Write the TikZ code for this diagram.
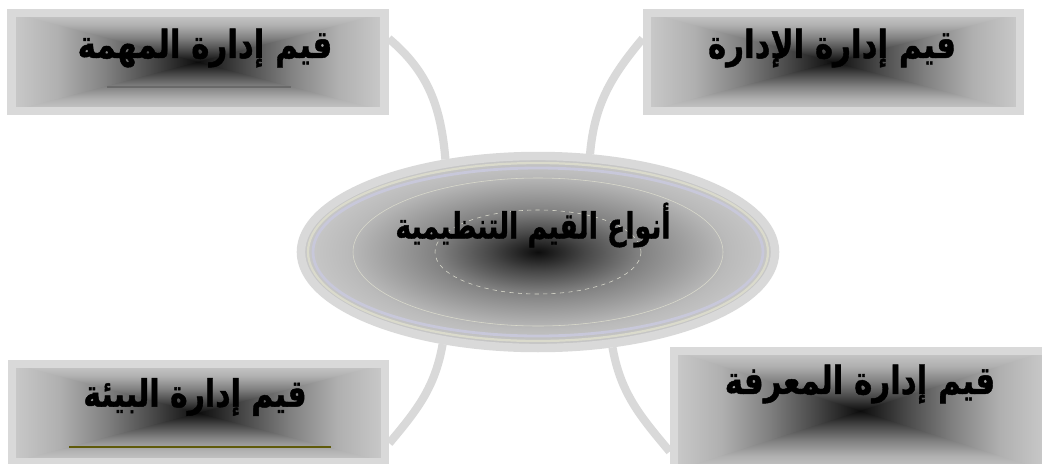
\documentclass[tikz,border=0pt]{standalone}
\usepackage{fontspec}
\newfontfamily\arabicfont[Script=Arabic, BoldFeatures={FakeBold=1.2}]{DejaVu Sans}
\TeXXeTstate=1
\usetikzlibrary{shapes.geometric}
\definecolor{framegray}{RGB}{217,217,217}
\definecolor{boxedge}{RGB}{202,202,202}
\definecolor{ringblue}{RGB}{200,200,218}
\definecolor{ringcream}{RGB}{218,218,204}
\definecolor{rulegray}{RGB}{105,105,105}
\definecolor{ruleolive}{RGB}{95,90,10}
\pgfdeclareradialshading{ovalshade}{\pgfpointorigin}{color(0bp)=(black!95); color(5bp)=(black!72); color(10.5bp)=(black!50); color(20bp)=(black!27); color(25bp)=(black!21); color(50bp)=(black!21)}
\pgfdeclareverticalshading{boxfade}{100bp}{color(0bp)=(black!95); color(25bp)=(black!95); color(37.5bp)=(black!71); color(50bp)=(black!49); color(62.5bp)=(black!31); color(75bp)=(boxedge); color(100bp)=(boxedge)}

\begin{document}
\begin{tikzpicture}[x=0.025cm, y=-0.025cm,
    valuebox/.style={draw=framegray, line width=6pt, inner sep=0pt,
      minimum width=9.325cm, minimum height=2.45cm,
      path picture={
        \fill[black!95] (path picture bounding box.north west) rectangle (path picture bounding box.south east);
        \shade[shading=boxfade] (path picture bounding box.north west) rectangle (path picture bounding box.east);
        \shade[shading=boxfade, shading angle=180] (path picture bounding box.west) rectangle (path picture bounding box.south east);
        \shade[shading=boxfade, shading angle=90] (path picture bounding box.north west) -- (path picture bounding box.south west) -- (path picture bounding box.center) -- cycle;
        \shade[shading=boxfade, shading angle=-90] (path picture bounding box.north east) -- (path picture bounding box.south east) -- (path picture bounding box.center) -- cycle;
      }},
    oval/.style={ellipse, draw=framegray, line width=6pt, inner sep=0pt,
      minimum width=11.85cm, minimum height=4.8cm, shading=ovalshade, shade},
    valuetext/.style={font=\arabicfont\bfseries\fontsize{22}{26}\selectfont, inner sep=0pt},
    link/.style={framegray, line width=5.8pt}]
    \useasboundingbox (0,0) rectangle (1042,463);
    \fill[white] (0,0) rectangle (1042,463);
    % boxes
    \node[valuebox] (tl) at (198,62) {};
    \node[valuebox] (tr) at (833.5,62) {};
    \node[valuebox] (bl) at (198.5,413) {};
    \node[valuebox, minimum height=3cm] (br) at (860.5,411) {};
    % centre oval
    \node[oval] (types) at (538,252) {};
    \draw[ringcream, line width=1.6pt] (types.center) ellipse[x radius=230, y radius=89];
    \draw[ringblue, line width=2pt] (types.center) ellipse[x radius=225, y radius=84];
    \draw[ringcream, line width=0.4pt] (types.center) ellipse[x radius=185, y radius=74];
    \draw[ringcream, line width=0.4pt, dashed] (types.center) ellipse[x radius=103, y radius=42];
    % links
    \draw[link] (tl.7) to[out=-40, in=95] (types.135);
    \draw[link] (tr.173) to[out=-130, in=85] (types.62);
    \draw[link] (bl.-9) to[out=50, in=-100] (types.224);
    \draw[link] (br.192) to[out=130, in=-80] (types.-52);
    % rules under the titles
    \draw[rulegray, line width=0.8pt] (107,87) -- (291,87);
    \draw[ruleolive, line width=1pt] (69,447) -- (331,447);
    % titles
    \node[valuetext] (tltext) at (205,48) {\scalebox{1}[1.25]{\beginR قيم إدارة المهمة\endR}};
    \node[valuetext] (trtext) at (832,48) {\scalebox{1}[1.25]{\beginR قيم إدارة الإدارة\endR}};
    \node[valuetext, font=\arabicfont\bfseries\fontsize{21.3}{26}\selectfont] (bltext) at (195,397) {\scalebox{1}[1.25]{\beginR قيم إدارة البيئة\endR}};
    \node[valuetext] (brtext) at (860,384) {\scalebox{1}[1.25]{\beginR قيم إدارة المعرفة\endR}};
    \node[valuetext, font=\arabicfont\bfseries\fontsize{19}{22}\selectfont] (typestext) at (533,225) {\scalebox{1}[1.35]{\beginR أنواع القيم التنظيمية\endR}};
\end{tikzpicture}
\end{document}
